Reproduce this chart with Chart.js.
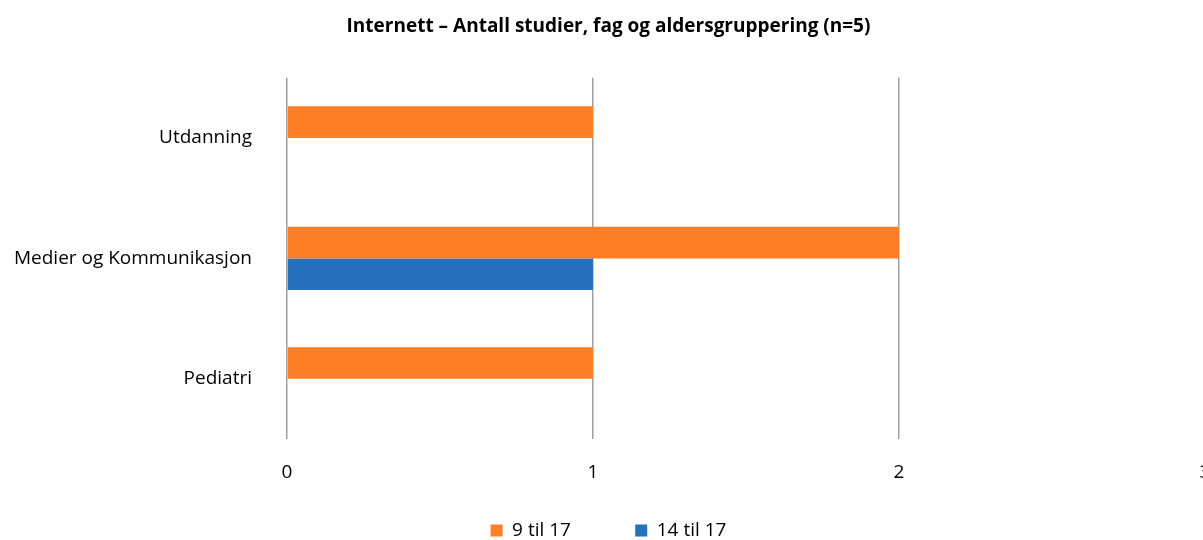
<!DOCTYPE html>
<html>
<head>
<meta charset="utf-8">
<script src="https://cdn.jsdelivr.net/npm/chart.js@4/dist/chart.umd.min.js"></script>
<style>
  html, body { margin: 0; padding: 0; background: #fff; overflow: hidden; }
  #canvas { display: block; }
</style>
</head>
<body>
<canvas id="canvas" width="1233" height="550"></canvas>
<script>
/* data */
const categories = ["Utdanning", "Medier og Kommunikasjon", "Pediatri"];
const serie9til17 = [1, 2, 1];
const serie14til17 = [0, 1, 0];
const xTicks = [0, 1, 2, 3];

const ctx = document.getElementById('canvas');
const font = "'Open Sans', 'Noto Sans', sans-serif";

var chart1 = new Chart(ctx, {
    type: 'bar',
    data: {
        labels: categories,
        datasets: [{
            label: '9 til 17',
            data: serie9til17,
            backgroundColor: '#fe7f27',
            categoryPercentage: 0.526,
            barPercentage: 1
        }, {
            label: '14 til 17',
            data: serie14til17,
            backgroundColor: '#2571bd',
            categoryPercentage: 0.526,
            barPercentage: 1
        }]
    },
    options: {
        indexAxis: 'y',
        responsive: false,
        animation: false,
        // right side is wider than the window so the "3" gridline falls just off screen
        layout: { padding: { left: 12, right: 28, top: 0, bottom: 0 } },
        plugins: {
            title: {
                display: true,
                text: 'Internett – Antall studier, fag og aldersgruppering (n=5)',
                color: '#000',
                font: { family: font, size: 19, weight: 'bold' },
                padding: { top: 15, bottom: 40 }
            },
            legend: {
                position: 'bottom',
                labels: {
                    color: '#000',
                    font: { family: font, size: 19 },
                    boxWidth: 12,
                    boxHeight: 12,
                    padding: 10,
                    generateLabels: function(chart) {
                        var items = Chart.defaults.plugins.legend.labels.generateLabels(chart);
                        items.forEach(function(it) { it.lineWidth = 0; });
                        if (items.length) items[0].text = items[0].text + '           ';
                        return items;
                    }
                }
            },
            tooltip: { enabled: false }
        },
        scales: {
            x: {
                min: 0,
                max: 3,
                afterBuildTicks: function(scale) {
                    scale.ticks = xTicks.map(function(v) { return { value: v }; });
                },
                afterFit: function(scale) { scale.height = 72; },
                grid: { color: '#a0a0a0', lineWidth: 1.5, drawTicks: false },
                border: { display: false },
                ticks: { color: '#000', font: { family: font, size: 19 }, padding: 22 }
            },
            y: {
                afterFit: function(scale) { scale.width = 275; },
                grid: { display: false, drawTicks: false },
                border: { display: false },
                ticks: { color: '#000', font: { family: font, size: 19 }, padding: 35 }
            }
        }
    }
});
</script>
</body>
</html>
